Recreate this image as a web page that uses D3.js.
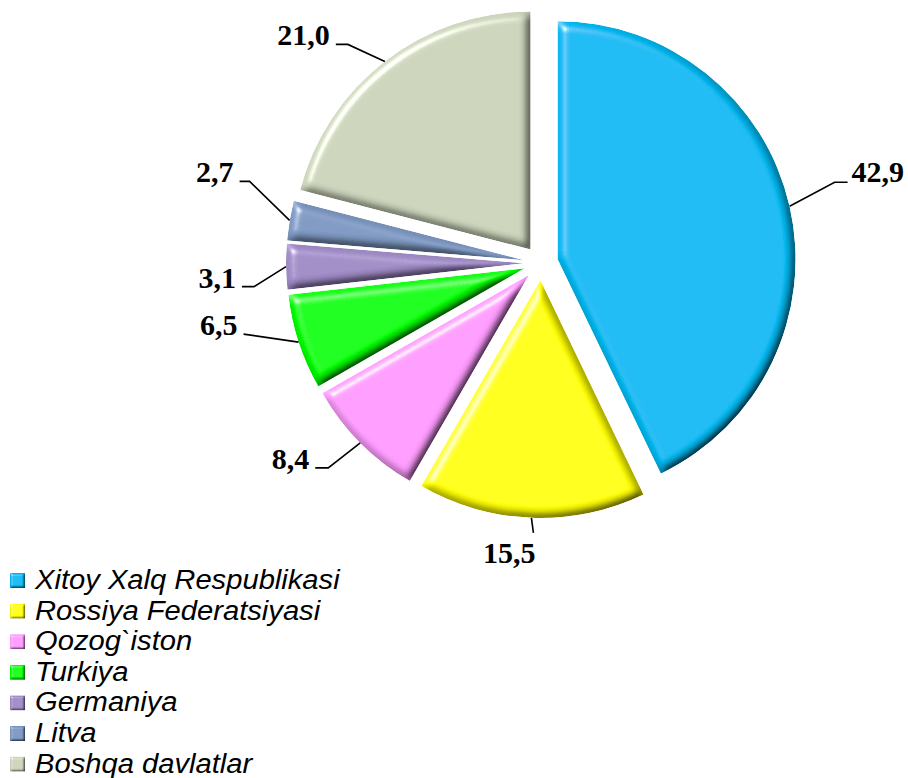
<!DOCTYPE html>
<html>
<head>
<meta charset="utf-8">
<script src="https://cdnjs.cloudflare.com/ajax/libs/d3/7.8.5/d3.min.js"></script>
<style>
  html, body { margin: 0; padding: 0; background: #fff; }
  svg { display: block; }
</style>
</head>
<body>
<div class="share-chart"></div>
<script>
(function(){

  var width = 908;
  var height = 778;

  // data
  var countries = ['Xitoy Xalq Respublikasi', 'Rossiya Federatsiyasi', 'Qozog`iston', 'Turkiya', 'Germaniya', 'Litva', 'Boshqa davlatlar'];
  var shares = [42.9, 15.5, 8.4, 6.5, 3.1, 2.7, 21.0];

  // look
  var colors = ['#00BAF2', '#FFFF00', '#FF9CFF', '#00FF00', '#A08CC6', '#7F99C2', '#CCD4BC'];
  var cx = 541, cy = 263, radius = 238, explode = 17;
  // leader line: elbow offset from the arc point, then horizontal tail, label side
  var leaders = [
    [45, -24, 13, 'right'],
    [2, 15, 0, 'below'],
    [-32, 25, -13, 'left'],
    [-55, -8, 0, 'left'],
    [-32, 20, -12, 'left'],
    [-40, -39, -10, 'left'],
    [-37, -17, -12, 'left']
  ];

  var svg = d3.select('.share-chart')
              .append('svg')
              .attr('width', width)
              .attr('height', height);

  var defs = svg.append('defs');
  addBevel('bevel', 5, 8);
  addBevel('bevelSmall', 1.2, 2.5);

  var pie = d3.pie().sort(null).value(function(d){ return d; });
  var arcs = pie(shares);
  var arc = d3.arc().innerRadius(0).outerRadius(radius);

  var slices = svg.selectAll('g.slice')
     .data(arcs)
     .enter()
     .append('g')
     .attr('class', 'slice')
     .attr('transform', function(d){
       var o = offset(d);
       return 'translate(' + (cx + o[0]) + ',' + (cy + o[1]) + ')';
     });

  slices.append('path')
     .attr('d', arc)
     .attr('fill', function(d, i){ return colors[i]; })
     .attr('filter', 'url(#bevel)');

  // leader lines and value labels
  var fmt = d3.format('.1f');

  arcs.forEach(function(d, i){
    var o = offset(d);
    var a = mid(d);
    var p0 = [cx + o[0] + Math.sin(a) * radius, cy + o[1] - Math.cos(a) * radius];
    var L = leaders[i];
    var p1 = [p0[0] + L[0], p0[1] + L[1]];
    var p2 = [p1[0] + L[2], p1[1]];

    svg.append('polyline')
       .attr('points', [p0, p1, p2].map(function(p){ return p.join(','); }).join(' '))
       .attr('fill', 'none')
       .attr('stroke', '#000')
       .attr('stroke-width', 1.6);

    var t = svg.append('text')
       .text(fmt(shares[i]).replace('.', ','))
       .attr('font-family', '"Liberation Serif", "Times New Roman", serif')
       .attr('font-weight', 'bold')
       .attr('font-size', '30px')
       .attr('fill', '#000');

    if (L[3] === 'right') {
      t.attr('x', p2[0] + 4).attr('y', p2[1]).attr('text-anchor', 'start');
    } else if (L[3] === 'below') {
      t.attr('x', p2[0] + 2).attr('y', p2[1] + 30).attr('text-anchor', 'end');
    } else {
      t.attr('x', p2[0] - 6).attr('y', p2[1] + 1).attr('text-anchor', 'end');
    }
  });

  // legend
  var legend = svg.selectAll('g.legend')
     .data(countries)
     .enter()
     .append('g')
     .attr('class', 'legend')
     .attr('transform', function(d, i){ return 'translate(10,' + (573 + i * 30.6) + ')'; });

  legend.append('rect')
     .attr('width', 15)
     .attr('height', 15)
     .attr('fill', function(d, i){ return colors[i]; })
     .attr('filter', 'url(#bevelSmall)');

  legend.append('text')
     .text(function(d){ return d; })
     .attr('transform', 'translate(25,16) scale(1.08,1)')
     .attr('font-family', '"Liberation Sans", Arial, sans-serif')
     .attr('font-style', 'italic')
     .attr('font-size', '27px')
     .attr('fill', '#000');


  function mid(d) {
    return (d.startAngle + d.endAngle) / 2;
  }

  function offset(d) {
    var a = mid(d);
    return [Math.sin(a) * explode, -Math.cos(a) * explode];
  }

  function addBevel(id, blur, scale) {
    var f = defs.append('filter')
                .attr('id', id)
                .attr('x', '-5%').attr('y', '-5%')
                .attr('width', '110%').attr('height', '110%');
    f.append('feGaussianBlur')
     .attr('in', 'SourceAlpha').attr('stdDeviation', blur).attr('result', 'blur');
    f.append('feDiffuseLighting')
     .attr('in', 'blur').attr('surfaceScale', scale).attr('diffuseConstant', 1.18)
     .attr('lighting-color', '#fff').attr('result', 'diff')
     .append('feDistantLight').attr('azimuth', 225).attr('elevation', 58);
    f.append('feComposite')
     .attr('in', 'SourceGraphic').attr('in2', 'diff').attr('operator', 'arithmetic')
     .attr('k1', 1).attr('k2', 0).attr('k3', 0).attr('k4', 0).attr('result', 'shaded');
    f.append('feSpecularLighting')
     .attr('in', 'blur').attr('surfaceScale', scale).attr('specularConstant', 0.6)
     .attr('specularExponent', 25).attr('lighting-color', '#fff').attr('result', 'spec')
     .append('feDistantLight').attr('azimuth', 225).attr('elevation', 30);
    f.append('feComposite')
     .attr('in', 'spec').attr('in2', 'SourceAlpha').attr('operator', 'in').attr('result', 'specIn');
    f.append('feComposite')
     .attr('in', 'shaded').attr('in2', 'specIn').attr('operator', 'arithmetic')
     .attr('k1', 0).attr('k2', 1).attr('k3', 1).attr('k4', 0).attr('result', 'lit');
    f.append('feComposite')
     .attr('in', 'lit').attr('in2', 'SourceAlpha').attr('operator', 'in');
  }

})();
</script>
</body>
</html>
